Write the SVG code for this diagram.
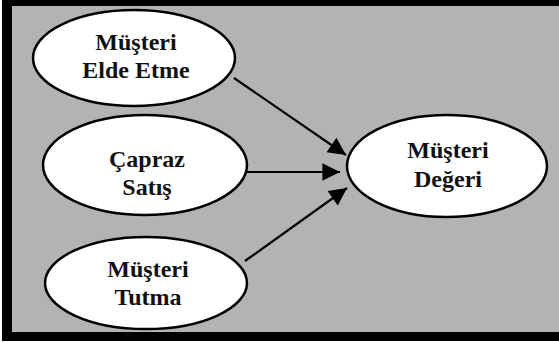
<svg xmlns="http://www.w3.org/2000/svg" width="559" height="343" viewBox="0 0 559 343">
<style>
.n ellipse{fill:#fff;stroke:#000;stroke-width:2.5}
.n text{font-family:"Liberation Serif","Times New Roman",serif;font-weight:bold;font-size:24px;text-anchor:middle;fill:#111}
.c line{stroke:#000;stroke-width:2.2;marker-end:url(#ah)}
</style>
<defs>
<marker id="ah" viewBox="0 0 10 10" refX="10" refY="5" markerWidth="9" markerHeight="8" markerUnits="strokeWidth" orient="auto">
<path d="M0,0 L10,5 L0,10 Z" fill="#000"/>
</marker>
</defs>
<rect x="0" y="0" width="559" height="343" fill="#fff"/>
<rect x="2" y="0" width="557" height="341" fill="#000"/>
<rect x="12" y="6" width="547" height="326" fill="#b2b4b4"/>
<g class="c" id="connectors">
<line x1="234" y1="78" x2="346" y2="155"/>
<line x1="246" y1="172" x2="340" y2="172"/>
<line x1="245" y1="261" x2="347" y2="188"/>
</g>
<g class="n" id="n1">
<ellipse cx="134" cy="58" rx="101" ry="48"/>
<text x="136" y="50">Müşteri</text>
<text x="136" y="78">Elde Etme</text>
</g>
<g class="n" id="n2">
<ellipse cx="145" cy="165" rx="102" ry="50"/>
<text x="147" y="167">Çapraz</text>
<text x="147" y="195">Satış</text>
</g>
<g class="n" id="n3">
<ellipse cx="146" cy="283" rx="101" ry="46"/>
<text x="148" y="277">Müşteri</text>
<text x="148" y="305">Tutma</text>
</g>
<g class="n" id="n4">
<ellipse cx="447" cy="166" rx="100" ry="51"/>
<text x="448" y="158">Müşteri</text>
<text x="448" y="187">Değeri</text>
</g>
</svg>
